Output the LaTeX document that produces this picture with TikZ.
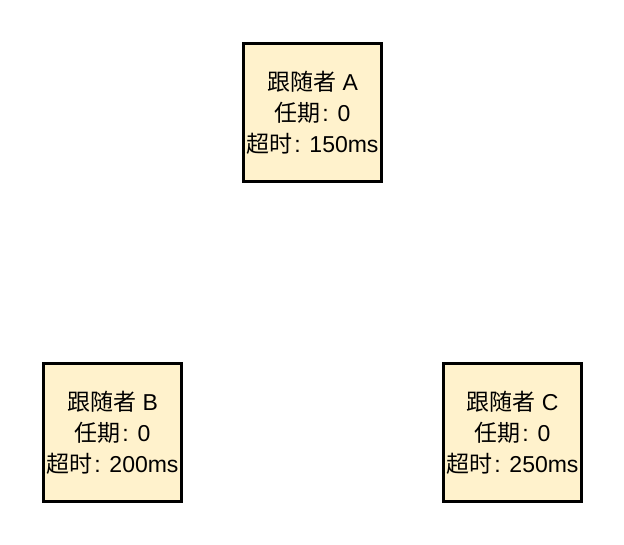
\documentclass[tikz,border=0pt]{standalone}
\usepackage{fontspec}
\setmainfont{Liberation Sans}
\newfontfamily\cjk{Noto Sans CJK SC}
\newcommand{\csep}{\hspace{0.08em}:\hspace{0.38em}}
\begin{document}
\begin{tikzpicture}[x=1pt,y=-1pt,
  follower/.style={draw=black, line width=3pt, fill={rgb,255:red,255;green,242;blue,204},
    minimum width=138pt, minimum height=138pt, inner sep=0pt, align=center,
    font=\fontsize{23}{31}\selectfont}]
\useasboundingbox (0,0) rectangle (624,544);
\node[follower] (A) at (312.5,112.5) {{\cjk 跟随者} A\\{\cjk 任期}\csep 0\\{\cjk 超时}\csep 150ms};
\node[follower] (B) at (112.5,432.5) {{\cjk 跟随者} B\\{\cjk 任期}\csep 0\\{\cjk 超时}\csep 200ms};
\node[follower] (C) at (512.5,432.5) {{\cjk 跟随者} C\\{\cjk 任期}\csep 0\\{\cjk 超时}\csep 250ms};
\end{tikzpicture}
\end{document}
